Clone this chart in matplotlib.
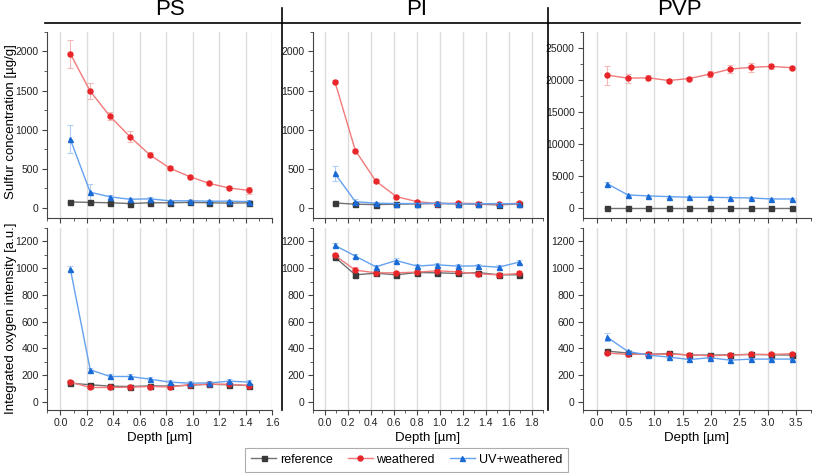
import matplotlib
matplotlib.use("Agg")
import matplotlib.pyplot as plt
from matplotlib.lines import Line2D
from matplotlib.ticker import MultipleLocator

plt.rcParams['font.family'] = ['Liberation Sans', 'DejaVu Sans']

# depth positions [µm]
ps_depth = [0.075, 0.225, 0.375, 0.525, 0.675, 0.825, 0.975, 1.125, 1.275, 1.425]
pi_depth = [0.09, 0.268, 0.446, 0.624, 0.802, 0.98, 1.158, 1.336, 1.514, 1.692]
pvp_depth = [0.18, 0.54, 0.9, 1.26, 1.62, 1.98, 2.34, 2.7, 3.06, 3.42]

# sulfur concentration [µg/g]
ps_s_ref = [75, 70, 65, 55, 65, 65, 70, 65, 60, 65]
ps_s_wea = [1970, 1490, 1170, 910, 678, 508, 400, 312, 253, 223]
ps_s_uv = [875, 200, 140, 110, 115, 90, 90, 85, 85, 80]
ps_s_ref_err = [10, 10, 10, 10, 10, 10, 10, 10, 10, 10]
ps_s_wea_err = [180, 100, 50, 70, 30, 25, 20, 20, 20, 40]
ps_s_uv_err = [180, 110, 30, 20, 20, 15, 15, 15, 15, 15]

pi_s_ref = [62, 47, 42, 47, 51, 55, 51, 47, 38, 51]
pi_s_wea = [1614, 733, 343, 144, 80, 55, 59, 55, 47, 59]
pi_s_uv = [440, 80, 59, 55, 55, 59, 51, 51, 55, 51]
pi_s_ref_err = [8, 8, 8, 8, 8, 8, 8, 8, 8, 8]
pi_s_wea_err = [20, 20, 20, 20, 15, 10, 10, 10, 10, 10]
pi_s_uv_err = [100, 30, 10, 10, 10, 10, 10, 10, 10, 10]

pvp_s_ref = [60, 60, 60, 60, 60, 60, 60, 60, 60, 60]
pvp_s_wea = [20755, 20283, 20335, 19916, 20230, 20912, 21698, 21960, 22117, 21908]
pvp_s_uv = [3826, 2096, 1939, 1834, 1730, 1730, 1677, 1625, 1467, 1467]
pvp_s_ref_err = [50, 50, 50, 50, 50, 50, 50, 50, 50, 50]
pvp_s_wea_err = [1500, 700, 400, 300, 300, 500, 600, 700, 400, 300]
pvp_s_uv_err = [300, 200, 150, 150, 150, 150, 150, 150, 150, 150]

# integrated oxygen intensity [a.u.]
ps_o_ref = [140, 128, 118, 115, 120, 118, 125, 132, 128, 122]
ps_o_wea = [148, 108, 108, 110, 115, 112, 128, 132, 132, 122]
ps_o_uv = [995, 240, 190, 190, 170, 148, 140, 142, 155, 148]
ps_o_ref_err = [15, 10, 10, 10, 10, 10, 10, 10, 10, 10]
ps_o_wea_err = [15, 10, 10, 10, 10, 10, 10, 10, 10, 10]
ps_o_uv_err = [20, 15, 15, 15, 15, 15, 15, 15, 15, 15]

pi_o_ref = [1082, 950, 962, 950, 967, 965, 960, 967, 950, 950]
pi_o_wea = [1095, 985, 965, 965, 970, 980, 972, 957, 950, 960]
pi_o_uv = [1170, 1090, 1010, 1057, 1015, 1025, 1015, 1017, 1007, 1045]
pi_o_ref_err = [15, 20, 15, 15, 15, 15, 15, 15, 15, 15]
pi_o_wea_err = [15, 20, 15, 15, 15, 15, 15, 15, 15, 15]
pi_o_uv_err = [15, 15, 15, 15, 15, 15, 15, 15, 15, 15]

pvp_o_ref = [380, 365, 355, 362, 350, 350, 352, 355, 352, 350]
pvp_o_wea = [365, 355, 357, 357, 352, 345, 350, 355, 355, 360]
pvp_o_uv = [482, 377, 350, 335, 317, 330, 312, 320, 320, 320]
pvp_o_ref_err = [10, 10, 10, 10, 10, 10, 10, 10, 10, 10]
pvp_o_wea_err = [10, 10, 10, 10, 10, 10, 10, 10, 10, 10]
pvp_o_uv_err = [30, 12, 10, 10, 10, 10, 10, 10, 10, 10]

labels = ['reference', 'weathered', 'UV+weathered']
markers = ['s', 'o', '^']
mcolors = ['#3a3a3a', '#e8262a', '#1a6ad6']
lcolors = ['#707070', '#f27a7a', '#64a2f0']
ecolors = ['#b8b8b8', '#f4b8b8', '#b0cef4']

fig = plt.figure(figsize=(8.13, 4.75), dpi=100)

# axes positions (left, right) per column, (bottom, top) per row
cols = [(0.058, 0.335), (0.385, 0.668), (0.717, 0.997)]
rows = [(0.541, 0.933), (0.137, 0.520)]

depths = [ps_depth, pi_depth, pvp_depth]
sulfur = [
    ([ps_s_ref, ps_s_wea, ps_s_uv], [ps_s_ref_err, ps_s_wea_err, ps_s_uv_err]),
    ([pi_s_ref, pi_s_wea, pi_s_uv], [pi_s_ref_err, pi_s_wea_err, pi_s_uv_err]),
    ([pvp_s_ref, pvp_s_wea, pvp_s_uv], [pvp_s_ref_err, pvp_s_wea_err, pvp_s_uv_err]),
]
oxygen = [
    ([ps_o_ref, ps_o_wea, ps_o_uv], [ps_o_ref_err, ps_o_wea_err, ps_o_uv_err]),
    ([pi_o_ref, pi_o_wea, pi_o_uv], [pi_o_ref_err, pi_o_wea_err, pi_o_uv_err]),
    ([pvp_o_ref, pvp_o_wea, pvp_o_uv], [pvp_o_ref_err, pvp_o_wea_err, pvp_o_uv_err]),
]
xlims = [(-0.1, 1.6), (-0.1, 1.9), (-0.25, 3.75)]
xmajor = [0.2, 0.2, 0.5]
s_ylims = [(-130, 2250), (-130, 2250), (-1500, 27500)]
s_major = [500, 500, 5000]


def style_axes(ax, c):
    for side in ['top', 'right']:
        ax.spines[side].set_visible(False)
    for side in ['left', 'bottom']:
        ax.spines[side].set_color('#444444')
        ax.spines[side].set_linewidth(0.8)
    ax.set_xlim(*xlims[c])
    ax.xaxis.set_major_locator(MultipleLocator(xmajor[c]))
    ax.xaxis.set_minor_locator(MultipleLocator(xmajor[c] / 2))
    ax.tick_params(which='both', direction='out', labelsize=7.5, colors='#444444',
                   labelcolor='#222222', pad=2.5)
    ax.tick_params(which='major', length=3.5, width=0.8)
    ax.tick_params(which='minor', length=2, width=0.6)
    ax.grid(axis='x', which='major', color='#dcdcdc', linewidth=1.0)
    ax.set_axisbelow(True)


def draw(ax, x, ys, errs):
    handles = []
    for k in range(3):
        ax.errorbar(x, ys[k], yerr=errs[k], fmt='none', ecolor=ecolors[k],
                    elinewidth=0.8, capsize=2, capthick=0.8, zorder=2)
        h, = ax.plot(x, ys[k], color=lcolors[k], linewidth=1.0, marker=markers[k],
                     markersize=3.6, markerfacecolor=mcolors[k],
                     markeredgecolor=mcolors[k], label=labels[k], zorder=3)
        handles.append(h)
    return handles


handles = None
for c in range(3):
    # sulfur row
    ax = fig.add_axes([cols[c][0], rows[0][0], cols[c][1] - cols[c][0], rows[0][1] - rows[0][0]])
    style_axes(ax, c)
    handles = draw(ax, depths[c], sulfur[c][0], sulfur[c][1])
    ax.set_ylim(*s_ylims[c])
    ax.yaxis.set_major_locator(MultipleLocator(s_major[c]))
    ax.yaxis.set_minor_locator(MultipleLocator(s_major[c] / 2))
    ax.tick_params(axis='x', labelbottom=False)

    # oxygen row
    ax = fig.add_axes([cols[c][0], rows[1][0], cols[c][1] - cols[c][0], rows[1][1] - rows[1][0]])
    style_axes(ax, c)
    draw(ax, depths[c], oxygen[c][0], oxygen[c][1])
    ax.set_ylim(-60, 1300)
    ax.yaxis.set_major_locator(MultipleLocator(200))
    ax.yaxis.set_minor_locator(MultipleLocator(100))
    ax.set_xlabel('Depth [µm]', fontsize=9.5, labelpad=3)

# y labels of the first column
fig.text(0.013, 0.745, 'Sulfur concentration [µg/g]', rotation=90,
         ha='center', va='center', fontsize=9.5)
fig.text(0.013, 0.33, 'Integrated oxygen intensity [a.u.]', rotation=90,
         ha='center', va='center', fontsize=9.5)

# column headers and separators
for name, xc in zip(['PS', 'PI', 'PVP'], [0.209, 0.512, 0.836]):
    fig.text(xc, 0.979, name, ha='center', va='center', fontsize=16)
fig.add_artist(Line2D([0.055, 0.984], [0.952, 0.952], color='black', linewidth=1.2))
for xv in [0.347, 0.674]:
    fig.add_artist(Line2D([xv, xv], [0.137, 0.983], color='black', linewidth=1.2))

leg = fig.legend(handles, labels, loc='lower center', bbox_to_anchor=(0.5, -0.007),
                 ncol=3, fontsize=9, frameon=True, fancybox=False, edgecolor='#999999',
                 handlelength=2.0, handletextpad=0.3, columnspacing=1.2,
                 borderpad=0.5)
leg.get_frame().set_linewidth(0.8)

fig.savefig('out.png', dpi=100)
